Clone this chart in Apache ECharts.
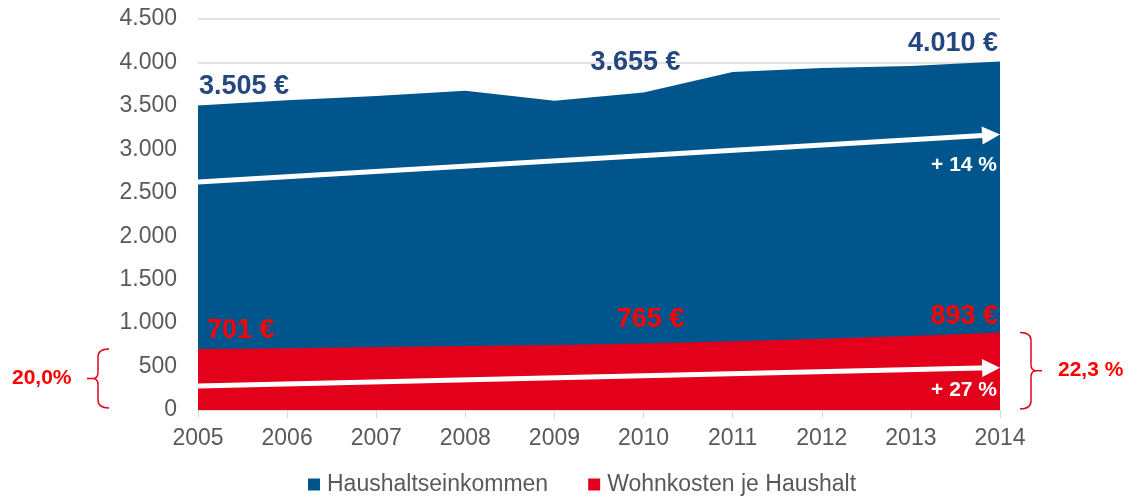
<!DOCTYPE html>
<html>
<head>
<meta charset="utf-8">
<script src="https://cdn.jsdelivr.net/npm/echarts@6/dist/echarts.min.js"></script>
<style>
  html, body { margin: 0; padding: 0; background: #fff; }
  #chart { width: 1134px; height: 496px; }
</style>
</head>
<body>
<div id="chart"></div>
<script>
  const years = [2005, 2006, 2007, 2008, 2009, 2010, 2011, 2012, 2013, 2014];
  const einkommen = [3505, 3565, 3615, 3675, 3560, 3655, 3890, 3935, 3960, 4010];
  const wohnkosten = [701, 712, 724, 736, 748, 765, 790, 820, 852, 893];

  const blueText = "#24477f";
  const redText = "#ff0000";
  const font = "Liberation Sans, Arial";
  const fmt = (v) => String(v).replace(/\B(?=(\d{3})+(?!\d))/g, ".");

  // nur einzelne Werte beschriften (Start, 2010, Ende)
  function pairs(data, labels) {
    return data.map((v, i) => {
      const item = { value: [years[i], v] };
      if (labels[i]) item.label = Object.assign({ show: true }, labels[i]);
      return item;
    });
  }

  function arrow(from, to, text, textOffset) {
    return {
      markLine: {
        silent: true,
        symbol: ["none", "triangle"],
        symbolSize: [18, 18],
        lineStyle: { color: "#fff", width: 5, type: "solid" },
        label: { show: false },
        data: [[{ coord: from }, { coord: to }]],
      },
      markPoint: {
        silent: true,
        symbol: "circle",
        symbolSize: 0,
        label: {
          show: true,
          formatter: text,
          color: "#fff",
          fontSize: 21,
          fontWeight: "bold",
          fontFamily: font,
          align: "right",
          verticalAlign: "middle",
          offset: textOffset,
        },
        data: [{ coord: [2014, to[1]] }],
      },
    };
  }

  const chart = echarts.init(document.getElementById("chart"));
  const option = {
    animation: false,
    grid: { left: 198, right: 134, top: 19, bottom: 86, containLabel: false },
    legend: {
      top: 468,
      left: 303,
      itemWidth: 12,
      itemHeight: 12,
      itemGap: 40,
      icon: "rect",
      textStyle: { color: "#595959", fontSize: 23, fontFamily: font, padding: [0, 0, 0, 2] },
      data: ["Haushaltseinkommen", "Wohnkosten je Haushalt"],
    },
    xAxis: {
      type: "value",
      min: 2005,
      max: 2014,
      interval: 1,
      axisLine: { lineStyle: { color: "#d9d9d9", width: 1 } },
      axisTick: { show: true, length: 8, lineStyle: { color: "#d9d9d9" } },
      axisLabel: { color: "#595959", fontSize: 23, margin: 17, fontFamily: font, formatter: (v) => String(v) },
      splitLine: { show: false },
    },
    yAxis: {
      type: "value",
      min: 0,
      max: 4500,
      interval: 500,
      axisLine: { show: false },
      axisTick: { show: false },
      axisLabel: { color: "#595959", fontSize: 23, margin: 21, fontFamily: font, formatter: fmt },
      splitLine: { lineStyle: { color: "#d9d9d9", width: 1.5 } },
    },
    series: [
      Object.assign({
        name: "Haushaltseinkommen",
        type: "line",
        symbol: "circle",
        symbolSize: 0,
        showSymbol: true,
        itemStyle: { color: "#00558c" },
        lineStyle: { width: 0 },
        areaStyle: { color: "#00558c", opacity: 1 },
        label: { show: false, fontSize: 27, fontWeight: "bold", color: blueText, fontFamily: font,
                 formatter: (p) => fmt(p.value[1]) + " €" },
        data: pairs(einkommen, {
          0: { position: "top", align: "left", offset: [1, 0] },
          5: { position: "top", offset: [-8, -11] },
          9: { position: "top", align: "right", offset: [-2, 0] },
        }),
        z: 1,
      }, arrow([2005, 2625], [2013.9, 3165], "+ 14 %", [-3, 30])),
      Object.assign({
        name: "Wohnkosten je Haushalt",
        type: "line",
        symbol: "circle",
        symbolSize: 0,
        showSymbol: true,
        itemStyle: { color: "#e2001a" },
        lineStyle: { width: 0 },
        areaStyle: { color: "#e2001a", opacity: 1 },
        label: { show: false, fontSize: 27, fontWeight: "bold", color: redText, fontFamily: font,
                 formatter: (p) => p.value[1] + " €" },
        data: pairs(wohnkosten, {
          0: { position: "top", align: "left", offset: [9, 0] },
          5: { position: "top", offset: [7, -5] },
          9: { position: "top", align: "right", offset: [-2, 3] },
        }),
        z: 2,
      }, arrow([2005, 276], [2013.9, 485], "+ 27 %", [-3, 22])),
    ],
  };
  chart.setOption(option);

  // geschweifte Klammern für die Anteile
  function brace(x, y1, y2, dir) {
    const m = (y1 + y2) / 2;
    const w = 11 * dir;
    const st = { fill: null, stroke: "#e2001a", lineWidth: 1.5 };
    return [
      { type: "bezierCurve", shape: { x1: x + w, y1: y1, cpx1: x, cpy1: y1, x2: x, y2: y1 + 8 }, style: st },
      { type: "line", shape: { x1: x, y1: y1 + 8, x2: x, y2: m - 6 }, style: st },
      { type: "bezierCurve", shape: { x1: x, y1: m - 6, cpx1: x, cpy1: m, x2: x - w * 0.5, y2: m }, style: st },
      { type: "bezierCurve", shape: { x1: x - w * 0.5, y1: m, cpx1: x, cpy1: m, x2: x, y2: m + 6 }, style: st },
      { type: "line", shape: { x1: x - w * 0.5, y1: m, x2: x - w, y2: m }, style: st },
      { type: "line", shape: { x1: x, y1: m + 6, x2: x, y2: y2 - 8 }, style: st },
      { type: "bezierCurve", shape: { x1: x, y1: y2 - 8, cpx1: x, cpy1: y2, x2: x + w, y2: y2 }, style: st },
    ];
  }
  const y0 = chart.convertToPixel({ yAxisIndex: 0 }, 0);
  const yL = chart.convertToPixel({ yAxisIndex: 0 }, wohnkosten[0]);
  const yR = chart.convertToPixel({ yAxisIndex: 0 }, wohnkosten[wohnkosten.length - 1]);
  const share = (a, b) => (a / b * 100).toFixed(1).replace(".", ",");

  chart.setOption({
    graphic: [].concat(
      brace(98, yL, y0 - 2, 1),
      brace(1031, yR, y0 - 1, -1),
      [
        {
          type: "text",
          left: 12,
          top: (yL + y0) / 2 - 12,
          style: { text: share(wohnkosten[0], einkommen[0]) + "%", fill: redText, font: "bold 21px 'Liberation Sans', Arial" },
        },
        {
          type: "text",
          left: 1058,
          top: (yR + y0) / 2 - 12,
          style: { text: share(wohnkosten[9], einkommen[9]) + " %", fill: redText, font: "bold 21px 'Liberation Sans', Arial" },
        },
      ]
    ),
  });
</script>
</body>
</html>
